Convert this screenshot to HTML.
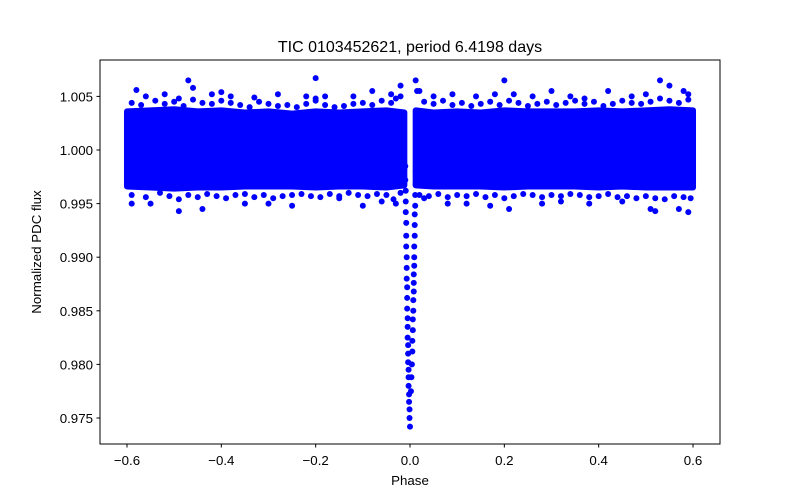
<!DOCTYPE html>
<html><head><meta charset="utf-8"><style>
body{margin:0;background:#fff;}
svg{display:block;font-family:"Liberation Sans","DejaVu Sans",sans-serif;}
</style></head><body>
<svg id="chart" width="800" height="500" viewBox="0 0 800 500">
<rect x="0" y="0" width="800" height="500" fill="#fff"/>
<text x="410" y="52" font-size="16" text-anchor="middle">TIC 0103452621, period 6.4198 days</text>
<g id="marks"></g>
<rect x="100" y="60" width="620" height="384" fill="none" stroke="#000" stroke-width="1"/>
<g id="axes"></g>
<text x="410" y="485" font-size="13.3" text-anchor="middle">Phase</text>
<text transform="translate(41,252) rotate(-90)" font-size="13.3" text-anchor="middle">Normalized PDC flux</text>
</svg>
<script>
// ---- data ----
const xTicks = [-0.6, -0.4, -0.2, 0.0, 0.2, 0.4, 0.6];
const xTickLabels = ["\u22120.6", "\u22120.4", "\u22120.2", "0.0", "0.2", "0.4", "0.6"];
const yTicks = [0.975, 0.980, 0.985, 0.990, 0.995, 1.000, 1.005];
const yTickLabels = ["0.975", "0.980", "0.985", "0.990", "0.995", "1.000", "1.005"];
// out-of-transit band envelope per phase bin (dense core)
const bandPhase = [-0.6,-0.55,-0.5,-0.45,-0.4,-0.35,-0.3,-0.25,-0.2,-0.15,-0.1,-0.05,-0.012, 0.012,0.05,0.1,0.15,0.2,0.25,0.3,0.35,0.4,0.45,0.5,0.55,0.6];
const bandUpper = [1.0036,1.0037,1.0038,1.0036,1.0037,1.0035,1.0036,1.0034,1.0036,1.0035,1.0036,1.0037,1.0035, 1.0037,1.0035,1.0036,1.0035,1.0037,1.0036,1.0036,1.0036,1.0037,1.0036,1.0037,1.0038,1.0037];
const bandLower = [0.9966,0.9965,0.9964,0.9965,0.9965,0.9966,0.9966,0.9966,0.9965,0.9966,0.9966,0.9965,0.9967, 0.9967,0.9966,0.9966,0.9966,0.9965,0.9966,0.9966,0.9966,0.9965,0.9966,0.9965,0.9965,0.9965];
// points near the band edges (ragged fringe)
const edgePhase = [-0.59,-0.57,-0.54,-0.52,-0.50,-0.48,-0.46,-0.44,-0.42,-0.40,-0.38,-0.36,-0.34,-0.32,-0.30,-0.28,-0.26,-0.24,-0.22,-0.20,-0.18,-0.16,-0.14,-0.12,-0.10,-0.08,-0.06,-0.04,-0.03,-0.02,
 0.015,0.03,0.05,0.07,0.09,0.11,0.13,0.15,0.17,0.19,0.21,0.23,0.25,0.27,0.29,0.31,0.33,0.35,0.37,0.39,0.41,0.43,0.45,0.47,0.49,0.51,0.53,0.55,0.57,0.59,
 -0.59,-0.56,-0.53,-0.51,-0.49,-0.47,-0.45,-0.43,-0.41,-0.39,-0.37,-0.35,-0.33,-0.31,-0.29,-0.27,-0.25,-0.23,-0.21,-0.19,-0.17,-0.15,-0.13,-0.11,-0.09,-0.07,-0.05,-0.035,-0.02,
 0.02,0.04,0.06,0.08,0.10,0.12,0.14,0.16,0.18,0.20,0.22,0.24,0.26,0.28,0.30,0.32,0.34,0.36,0.38,0.40,0.42,0.44,0.46,0.48,0.50,0.52,0.54,0.56,0.58,0.595];
const edgeFlux = [1.0044,1.0042,1.0046,1.0043,1.0045,1.0041,1.0047,1.0044,1.0043,1.0046,1.0044,1.0042,1.0040,1.0045,1.0043,1.0041,1.0042,1.0040,1.0043,1.0046,1.0042,1.0040,1.0041,1.0043,1.0044,1.0042,1.0046,1.0044,1.0048,1.0050,
 1.0055,1.0045,1.0043,1.0046,1.0042,1.0044,1.0041,1.0043,1.0045,1.0042,1.0046,1.0044,1.0041,1.0043,1.0045,1.0042,1.0044,1.0046,1.0043,1.0045,1.0041,1.0043,1.0046,1.0044,1.0043,1.0045,1.0048,1.0046,1.0044,1.0047,
 0.9958,0.9956,0.9960,0.9957,0.9954,0.9958,0.9956,0.9959,0.9957,0.9955,0.9958,0.9959,0.9956,0.9958,0.9955,0.9957,0.9958,0.9959,0.9957,0.9956,0.9959,0.9957,0.9960,0.9958,0.9957,0.9959,0.9958,0.9954,0.9960,
 0.9958,0.9957,0.9959,0.9956,0.9958,0.9957,0.9959,0.9956,0.9958,0.9955,0.9957,0.9959,0.9958,0.9956,0.9958,0.9957,0.9959,0.9958,0.9956,0.9957,0.9959,0.9956,0.9957,0.9955,0.9957,0.9955,0.9954,0.9957,0.9956,0.9955];
// scattered outliers
const outPhase = [-0.58,-0.56,-0.52,-0.49,-0.47,-0.46,-0.42,-0.40,-0.38,-0.33,-0.28,-0.22,-0.20,-0.20,-0.18,-0.12,-0.08,-0.04,-0.02,-0.03,-0.06,-0.10,-0.15,-0.25,-0.30,-0.35,-0.44,-0.49,-0.55,-0.59,
 0.012,0.02,0.05,0.09,0.14,0.18,0.20,0.22,0.26,0.30,0.34,0.37,0.42,0.47,0.50,0.53,0.55,0.58,0.59,0.03,0.08,0.12,0.17,0.21,0.28,0.32,0.38,0.45,0.51,0.52,0.57,0.59];
const outFlux = [1.0056,1.0050,1.0052,1.0048,1.0065,1.0058,1.0052,1.0054,1.0050,1.0049,1.0052,1.0050,1.0067,1.0048,1.0050,1.0050,1.0055,1.0052,1.0060,0.9950,0.9952,0.9948,0.9955,0.9948,0.9950,0.9950,0.9945,0.9943,0.9950,0.9950,
 1.0065,1.0055,1.0050,1.0052,1.0050,1.0052,1.0065,1.0052,1.0050,1.0055,1.0050,1.0048,1.0055,1.0050,1.0052,1.0065,1.0060,1.0055,1.0052,0.9955,0.9950,0.9950,0.9948,0.9945,0.9950,0.9952,0.9950,0.9952,0.9945,0.9943,0.9945,0.9942];
// in-transit points: ingress branch
const ingPhase = [-0.010,-0.010,-0.009,-0.009,-0.009,-0.008,-0.008,-0.008,-0.007,-0.007,-0.007,-0.006,-0.006,-0.006,-0.005,-0.005,-0.005,-0.004,-0.004,-0.004,-0.003,-0.003,-0.003,-0.002,-0.002,-0.001,-0.001,0.000];
const ingFlux  = [0.9985,0.9972,0.9962,0.9952,0.9942,0.9932,0.9920,0.9910,0.9900,0.9890,0.9880,0.9872,0.9862,0.9852,0.9843,0.9835,0.9825,0.9818,0.9810,0.9802,0.9795,0.9788,0.9780,0.9772,0.9765,0.9758,0.9750,0.9742];
// in-transit points: egress branch
const egrPhase = [0.012,0.012,0.011,0.011,0.010,0.010,0.010,0.009,0.009,0.009,0.008,0.008,0.008,0.007,0.007,0.006,0.006,0.005,0.005,0.004,0.003,0.002];
const egrFlux  = [0.9980,0.9968,0.9958,0.9948,0.9940,0.9930,0.9920,0.9910,0.9900,0.9892,0.9884,0.9876,0.9868,0.9860,0.9850,0.9842,0.9832,0.9822,0.9812,0.9800,0.9788,0.9775];

// ---- axis functions ----
const xScale = p => 410 + p * 471.7;
const yScale = f => 150 - (f - 1.0) * 10720;
const NS = "http://www.w3.org/2000/svg";
const marks = document.getElementById('marks');
const axes = document.getElementById('axes');
const C = "#0000ff";

function dot(px, py, name) {
  if (px === undefined || py === undefined) return;
  const c = document.createElementNS(NS, 'circle');
  c.setAttribute('cx', xScale(px)); c.setAttribute('cy', yScale(py)); c.setAttribute('r', 3);
  c.setAttribute('fill', C);
  
  
  marks.appendChild(c);
}

function band(i0, i1, name) {
  let pts = [];
  for (let i = i0; i <= i1; i++) pts.push(xScale(bandPhase[i]) + ',' + yScale(bandUpper[i]));
  for (let i = i1; i >= i0; i--) pts.push(xScale(bandPhase[i]) + ',' + yScale(bandLower[i]));
  const p = document.createElementNS(NS, 'polygon');
  p.setAttribute('points', pts.join(' '));
  p.setAttribute('fill', C); p.setAttribute('stroke', C); p.setAttribute('stroke-width', 6); p.setAttribute('stroke-linejoin', 'round');
  
  
  marks.appendChild(p);
}
const split = bandPhase.findIndex(v => v > 0);
band(0, split - 1, 'band-before-transit');
band(split, bandPhase.length - 1, 'band-after-transit');
for (let i = 0; i < edgePhase.length; i++) dot(edgePhase[i], edgeFlux[i], 'edge-point');
for (let i = 0; i < outPhase.length; i++) dot(outPhase[i], outFlux[i], 'outlier-point');
for (let i = 0; i < ingPhase.length; i++) dot(ingPhase[i], ingFlux[i], 'transit-ingress-point');
for (let i = 0; i < egrPhase.length; i++) dot(egrPhase[i], egrFlux[i], 'transit-egress-point');

// ticks
xTicks.forEach((t, i) => {
  const x = xScale(t);
  const l = document.createElementNS(NS, 'line');
  l.setAttribute('x1', x); l.setAttribute('x2', x); l.setAttribute('y1', 444); l.setAttribute('y2', 447.5);
  l.setAttribute('stroke', '#000');
  
  
  axes.appendChild(l);
  const tx = document.createElementNS(NS, 'text');
  tx.setAttribute('x', x); tx.setAttribute('y', 465); tx.setAttribute('font-size', '13.3'); tx.setAttribute('text-anchor', 'middle');
  tx.textContent = xTickLabels[i];
  
  
  axes.appendChild(tx);
});
yTicks.forEach((t, i) => {
  const y = yScale(t);
  const l = document.createElementNS(NS, 'line');
  l.setAttribute('x1', 96.5); l.setAttribute('x2', 100); l.setAttribute('y1', y); l.setAttribute('y2', y);
  l.setAttribute('stroke', '#000');
  
  
  axes.appendChild(l);
  const tx = document.createElementNS(NS, 'text');
  tx.setAttribute('x', 93); tx.setAttribute('y', y + 5); tx.setAttribute('font-size', '13.3'); tx.setAttribute('text-anchor', 'end');
  tx.textContent = yTickLabels[i];
  
  
  axes.appendChild(tx);
});
</script>
</body></html>
